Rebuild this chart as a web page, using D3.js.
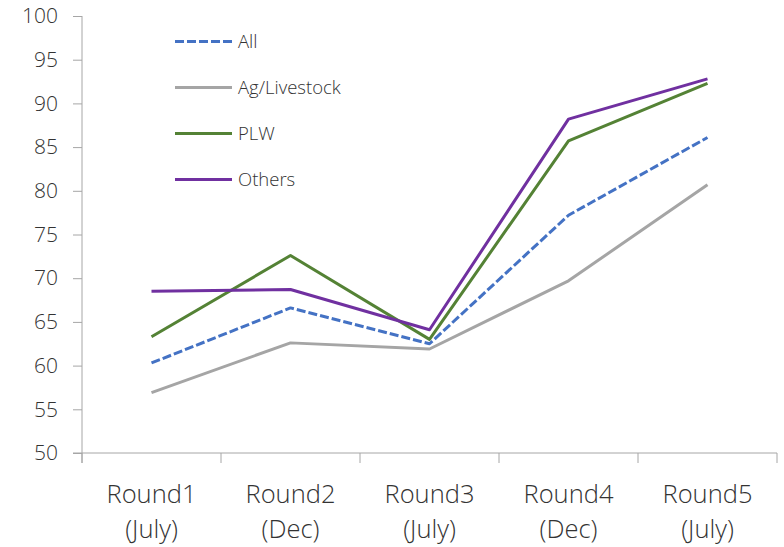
<!DOCTYPE html>
<html>
<head>
<meta charset="utf-8">
<script src="https://cdn.jsdelivr.net/npm/d3@7"></script>
<style>
  html, body { margin: 0; padding: 0; background: #fff; }
  svg { display: block; }
  text { font-family: "Open Sans", "Liberation Sans", sans-serif; font-weight: 300; fill: #333333; }
</style>
</head>
<body>
<svg id="chart" width="784" height="547"></svg>
<script>
// Survey rounds (two-line axis labels)
const rounds = ["Round1", "Round2", "Round3", "Round4", "Round5"];
const periods = ["(July)", "(Dec)", "(July)", "(Dec)", "(July)"];

// Series values per round
const allValues       = [60.3, 66.6, 62.5, 77.2, 86.1];
const agLivestock     = [56.9, 62.6, 61.9, 69.7, 80.7];
const plwValues       = [63.3, 72.6, 63.0, 85.7, 92.3];
const othersValues    = [68.5, 68.7, 64.1, 88.2, 92.8];

const yTicks = [50, 55, 60, 65, 70, 75, 80, 85, 90, 95, 100];

const series = [
  { name: "All",          values: allValues,    color: "#4472C4", dash: "9,3" },
  { name: "Ag/Livestock", values: agLivestock,  color: "#A5A5A5", dash: null },
  { name: "PLW",          values: plwValues,    color: "#548235", dash: null },
  { name: "Others",       values: othersValues, color: "#7030A0", dash: null }
];

const svg = d3.select("#chart");
const plotLeft = 82, plotRight = 777, plotTop = 16, plotBottom = 453;

const x = d3.scaleBand().domain(rounds).range([plotLeft, plotRight]).padding(0);
const y = d3.scaleLinear().domain([50, 100]).range([plotBottom, plotTop]);
const cx = r => x(r) + x.bandwidth() / 2;

// Y axis
const yAxis = svg.append("g")
  .attr("transform", `translate(${plotLeft},0)`)
  .call(d3.axisLeft(y).tickValues(yTicks).tickSize(9).tickPadding(15).tickFormat(d3.format("d")));
yAxis.select(".domain").attr("stroke", "#A6A6A6").attr("d", `M0,${plotTop}V${plotBottom + 10}`);
yAxis.selectAll(".tick line").attr("stroke", "#A6A6A6");
yAxis.selectAll(".tick text").attr("font-size", 21).attr("fill", "#333333")
  .attr("font-family", "'Open Sans', sans-serif");

// X axis: baseline with ticks at category boundaries
const xAxis = svg.append("g");
xAxis.append("line")
  .attr("x1", plotLeft - 9).attr("x2", plotRight)
  .attr("y1", plotBottom).attr("y2", plotBottom)
  .attr("stroke", "#A6A6A6");
const bounds = rounds.map(r => x(r)).concat([x.range()[1]]);
xAxis.selectAll("line.tick").data(bounds).enter().append("line")
  .attr("class", "tick")
  .attr("x1", d => d).attr("x2", d => d)
  .attr("y1", plotBottom).attr("y2", plotBottom + 10)
  .attr("stroke", "#A6A6A6");

const labels = xAxis.selectAll("text.cat").data(rounds).enter().append("text")
  .attr("class", "cat")
  .attr("text-anchor", "middle")
  .attr("font-size", 25.5);
labels.append("tspan").attr("x", d => cx(d)).attr("y", 503).text(d => d);
labels.append("tspan").attr("x", d => cx(d)).attr("y", 538).text((d, i) => periods[i]);

// Lines
const line = d3.line().x((d, i) => cx(rounds[i])).y(d => y(d));
svg.append("g").selectAll("path").data(series).enter().append("path")
  .attr("d", d => line(d.values))
  .attr("fill", "none")
  .attr("stroke", d => d.color)
  .attr("stroke-width", 3)
  .attr("stroke-dasharray", d => d.dash)
  .attr("stroke-linejoin", "round");

// Legend
const legend = svg.append("g");
const rows = legend.selectAll("g").data(series).enter().append("g")
  .attr("transform", (d, i) => `translate(175,${41.5 + i * 46})`);
rows.append("line")
  .attr("x1", 0).attr("x2", 57).attr("y1", 0).attr("y2", 0)
  .attr("stroke", d => d.color)
  .attr("stroke-width", 3)
  .attr("stroke-dasharray", d => d.dash);
rows.append("text")
  .attr("x", 63).attr("y", 0).attr("dy", "0.35em")
  .attr("font-size", 18.5)
  .text(d => d.name);
</script>
</body>
</html>
